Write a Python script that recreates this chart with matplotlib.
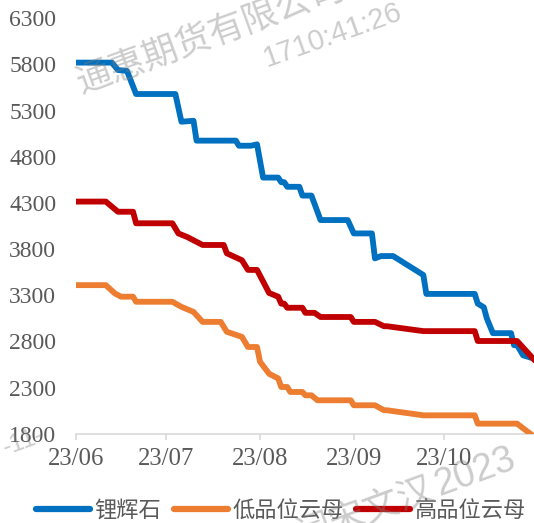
import matplotlib
matplotlib.use("Agg")
import matplotlib.pyplot as plt
import matplotlib.dates as mdates
import pandas as pd
from matplotlib.lines import Line2D

# ---------------- data ----------------
spod_dates = ["2023-06-01", "2023-06-13", "2023-06-15", "2023-06-18", "2023-06-21",
              "2023-07-04", "2023-07-06", "2023-07-10", "2023-07-11", "2023-07-24",
              "2023-07-25", "2023-07-29", "2023-07-31", "2023-08-02", "2023-08-07",
              "2023-08-08", "2023-08-09", "2023-08-10", "2023-08-14", "2023-08-15",
              "2023-08-18", "2023-08-21", "2023-08-30", "2023-09-01", "2023-09-07",
              "2023-09-08", "2023-09-10", "2023-09-14", "2023-09-24", "2023-09-25",
              "2023-10-11", "2023-10-12", "2023-10-14", "2023-10-15", "2023-10-17",
              "2023-10-23", "2023-10-24", "2023-10-25", "2023-10-27", "2023-10-31"]
spod_values = [5820, 5820, 5740, 5730, 5480,
               5480, 5180, 5190, 4975, 4975,
               4920, 4920, 4935, 4575, 4575,
               4525, 4525, 4475, 4475, 4380,
               4380, 4115, 4115, 3970, 3970,
               3700, 3725, 3725, 3520, 3315,
               3315, 3210, 3170, 3050, 2890,
               2890, 2760, 2760, 2650, 2610]

low_dates = ["2023-06-01", "2023-06-11", "2023-06-14", "2023-06-16", "2023-06-20",
             "2023-06-21", "2023-07-03", "2023-07-06", "2023-07-10", "2023-07-13",
             "2023-07-19", "2023-07-21", "2023-07-26", "2023-07-28", "2023-07-31",
             "2023-08-01", "2023-08-04", "2023-08-07", "2023-08-08", "2023-08-10",
             "2023-08-11", "2023-08-15", "2023-08-16", "2023-08-18", "2023-08-20",
             "2023-08-31", "2023-09-01", "2023-09-08", "2023-09-11", "2023-09-12",
             "2023-09-24", "2023-10-11", "2023-10-12", "2023-10-25", "2023-10-31"]
low_values = [3410, 3410, 3320, 3285, 3285,
              3230, 3230, 3175, 3120, 3012,
              3012, 2905, 2850, 2740, 2740,
              2580, 2450, 2400, 2307, 2307,
              2253, 2253, 2217, 2217, 2163,
              2163, 2109, 2109, 2055, 2055,
              2000, 2000, 1910, 1910, 1760]

high_dates = ["2023-06-01", "2023-06-11", "2023-06-15", "2023-06-20", "2023-06-21",
              "2023-07-03", "2023-07-05", "2023-07-08", "2023-07-13", "2023-07-20",
              "2023-07-21", "2023-07-26", "2023-07-28", "2023-07-31", "2023-08-02",
              "2023-08-04", "2023-08-07", "2023-08-08", "2023-08-09", "2023-08-10",
              "2023-08-15", "2023-08-16", "2023-08-19", "2023-08-21", "2023-08-31",
              "2023-09-01", "2023-09-08", "2023-09-11", "2023-09-12", "2023-09-24",
              "2023-10-11", "2023-10-12", "2023-10-25", "2023-10-31"]
high_values = [4315, 4315, 4205, 4205, 4080,
               4080, 3970, 3930, 3845, 3845,
               3755, 3680, 3575, 3575, 3450,
               3325, 3285, 3210, 3210, 3165,
               3165, 3110, 3110, 3065, 3065,
               3012, 3012, 2965, 2965, 2912,
               2912, 2805, 2805, 2590]

series_names = ["锂辉石", "低品位云母", "高品位云母"]
series_colors = ["#0070C0", "#ED7D31", "#C00000"]

y_ticks = [1800, 2300, 2800, 3300, 3800, 4300, 4800, 5300, 5800, 6300]
x_tick_dates = ["2023-06-01", "2023-07-01", "2023-08-01", "2023-09-01", "2023-10-01"]

# ---------------- plot ----------------
W, H = 534, 523
fig = plt.figure(figsize=(W / 100, H / 100), dpi=100)
ax = fig.add_axes([75.6 / W, 1 - 433.8 / H, 1 - 75.6 / W, (433.8 - 18.3) / H])

all_series = [(spod_dates, spod_values), (low_dates, low_values), (high_dates, high_values)]
for (d, v), c in zip(all_series, series_colors):
    ax.plot(pd.to_datetime(d), v, color=c, lw=4.2, solid_joinstyle="round",
            solid_capstyle="round", zorder=3)

x0 = pd.Timestamp("2023-06-01")
ax.set_xlim(x0, x0 + pd.Timedelta(days=151.6))
ax.set_ylim(1800, 6300)
ax.set_yticks(y_ticks)
ax.set_xticks(pd.to_datetime(x_tick_dates))
ax.xaxis.set_major_formatter(mdates.DateFormatter("%y/%m"))

for s in ["top", "right", "left"]:
    ax.spines[s].set_visible(False)
ax.spines["bottom"].set_color("#d9d9d9")
ax.spines["bottom"].set_linewidth(1.2)
ax.spines["bottom"].set_zorder(1)

ax.tick_params(axis="y", length=0, pad=14, labelcolor="#595959")
ax.tick_params(axis="x", length=4.5, width=1.2, color="#d9d9d9", direction="out",
               pad=5.5, labelcolor="#595959")
for lab in ax.get_yticklabels():
    lab.set_fontfamily("Liberation Serif")
    lab.set_fontsize(17)
for lab in ax.get_xticklabels():
    lab.set_fontfamily("Liberation Serif")
    lab.set_fontsize(17.8)

handles = [Line2D([0], [0], color=c, lw=4.5, solid_capstyle="round") for c in series_colors]
fig.legend(handles, series_names, loc="center", bbox_to_anchor=(0.526, 0.024), ncol=3,
           frameon=False, handlelength=2.45, handletextpad=0.2, columnspacing=0.55,
           borderpad=0, borderaxespad=0,
           prop=dict(family=["Noto Sans CJK SC", "DejaVu Sans"], size=16),
           labelcolor="#595959")

# ---------------- watermark ----------------
wm = dict(color="#808080", alpha=0.4, rotation_mode="anchor", zorder=10)
fig.text(82 / W, 1 - 94 / H, "通惠期货有限公司", family=["Noto Sans CJK SC"], size=25.5,
         ha="left", va="baseline", rotation=20, **wm)
fig.text(267 / W, 1 - 67 / H, "1710:41:26", family=["Liberation Sans"], size=21,
         ha="left", va="baseline", rotation=19.5, **wm)
fig.text(439 / W, 1 - 496 / H, "2023", family=["Liberation Sans"], size=27,
         ha="left", va="baseline", rotation=20, **wm)
fig.text(437 / W, 1 - 497 / H, "闫宋文汉", family=["Noto Sans CJK SC"], size=26,
         ha="right", va="baseline", rotation=20, **wm)
fig.text(46 / W, 1 - 440 / H, "-11-", family=["Liberation Sans"], size=18,
         ha="right", va="baseline", rotation=20, **wm)

fig.savefig("out.png", dpi=100)
